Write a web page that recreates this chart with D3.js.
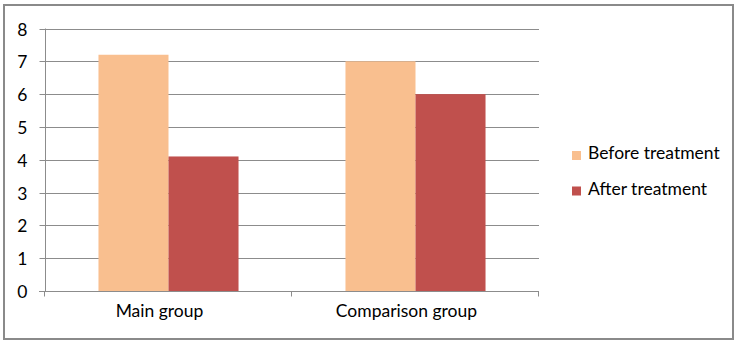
<!DOCTYPE html>
<html>
<head>
<meta charset="utf-8">
<script src="https://cdn.jsdelivr.net/npm/d3@7/dist/d3.min.js"></script>
<style>
  html, body { margin: 0; padding: 0; background: #fff; }
  svg { display: block; }
  text { font-family: Lato, "Open Sans", sans-serif; fill: #000; }
</style>
</head>
<body>
<svg id="chart" width="738" height="344"></svg>
<script>
// Chart data
const categories = ["Main group", "Comparison group"];
const seriesNames = ["Before treatment", "After treatment"];
const beforeValues = [7.2, 7.0];
const afterValues = [4.1, 6.0];
const yTicks = [0, 1, 2, 3, 4, 5, 6, 7, 8];
const seriesColors = ["#F9BF8F", "#C0504D"];

const svg = d3.select("#chart");

// Outer frame
svg.append("rect")
  .attr("x", 4).attr("y", 5)
  .attr("width", 729).attr("height", 334)
  .attr("fill", "#fff")
  .attr("stroke", "#8a8a8a")
  .attr("stroke-width", 2);

const plot = { left: 45, right: 539, top: 28.5, bottom: 291 };

const y = d3.scaleLinear().domain([0, 8]).range([plot.bottom, plot.top]);
const x0 = d3.scaleBand().domain(categories)
  .range([plot.left, plot.right])
  .paddingInner(0.433).paddingOuter(0.2165);
const x1 = d3.scaleBand().domain(seriesNames).range([0, x0.bandwidth()]);

// Gridlines
svg.append("g")
  .selectAll("line")
  .data(yTicks.filter(d => d > 0))
  .join("line")
  .attr("x1", plot.left).attr("x2", plot.right)
  .attr("y1", d => Math.round(y(d)) + 0.5)
  .attr("y2", d => Math.round(y(d)) + 0.5)
  .attr("stroke", "#8c8c8c")
  .attr("stroke-width", 1);

// Bars
const rows = categories.map((c, i) => ({
  category: c,
  values: [beforeValues[i], afterValues[i]]
}));

const groups = svg.append("g")
  .selectAll("g")
  .data(rows)
  .join("g")
  .attr("transform", d => `translate(${x0(d.category)},0)`);

groups.selectAll("rect")
  .data(d => d.values.map((v, j) => ({ name: seriesNames[j], value: v, color: seriesColors[j] })))
  .join("rect")
  .attr("x", d => x1(d.name))
  .attr("y", d => y(d.value))
  .attr("width", x1.bandwidth())
  .attr("height", d => plot.bottom - y(d.value))
  .attr("fill", d => d.color);

// Y axis
const yAxis = d3.axisLeft(y).tickValues(yTicks).tickSize(6).tickPadding(12);
const gy = svg.append("g")
  .attr("transform", `translate(${plot.left + 0.5},0)`)
  .call(yAxis);
gy.select(".domain").attr("stroke", "#8c8c8c").attr("d", `M0,${plot.top}V${plot.bottom}`);
gy.selectAll(".tick line").attr("stroke", "#8c8c8c");
gy.selectAll(".tick").attr("transform", d => `translate(0,${Math.round(y(d)) + 0.5})`);
gy.selectAll(".tick text")
  .style("font-family", "Lato, 'Open Sans', sans-serif")
  .style("font-size", "17.5px")
  .attr("dy", "0.36em")
  .attr("fill", "#000");

// X axis
const gx = svg.append("g")
  .attr("transform", `translate(0,${Math.round(plot.bottom) + 0.5})`);
gx.append("line")
  .attr("x1", plot.left - 6).attr("x2", plot.right)
  .attr("stroke", "#8c8c8c");
const boundaries = [plot.left, ...categories.map(c => x0(c) + x0.bandwidth() + x0.step() * x0.paddingInner() / 2)];
gx.selectAll("line.tk")
  .data(boundaries)
  .join("line")
  .attr("class", "tk")
  .attr("x1", d => Math.round(d) - 0.5).attr("x2", d => Math.round(d) - 0.5)
  .attr("y1", 0).attr("y2", 5)
  .attr("stroke", "#8c8c8c");
gx.selectAll("text")
  .data(categories)
  .join("text")
  .attr("x", d => x0(d) + x0.bandwidth() / 2)
  .attr("dx", -9)
  .attr("y", 25)
  .attr("text-anchor", "middle")
  .style("font-size", "17.5px")
  .text(d => d);

// Legend
const legend = svg.append("g").attr("transform", "translate(572,151)");
const items = legend.selectAll("g")
  .data(seriesNames)
  .join("g")
  .attr("transform", (d, i) => `translate(0,${i * 35.5})`);
items.append("rect")
  .attr("width", 9).attr("height", 9)
  .attr("fill", (d, i) => seriesColors[i]);
items.append("text")
  .attr("x", 16).attr("y", 8)
  .style("font-size", "17.5px")
  .text(d => d);
</script>
</body>
</html>
